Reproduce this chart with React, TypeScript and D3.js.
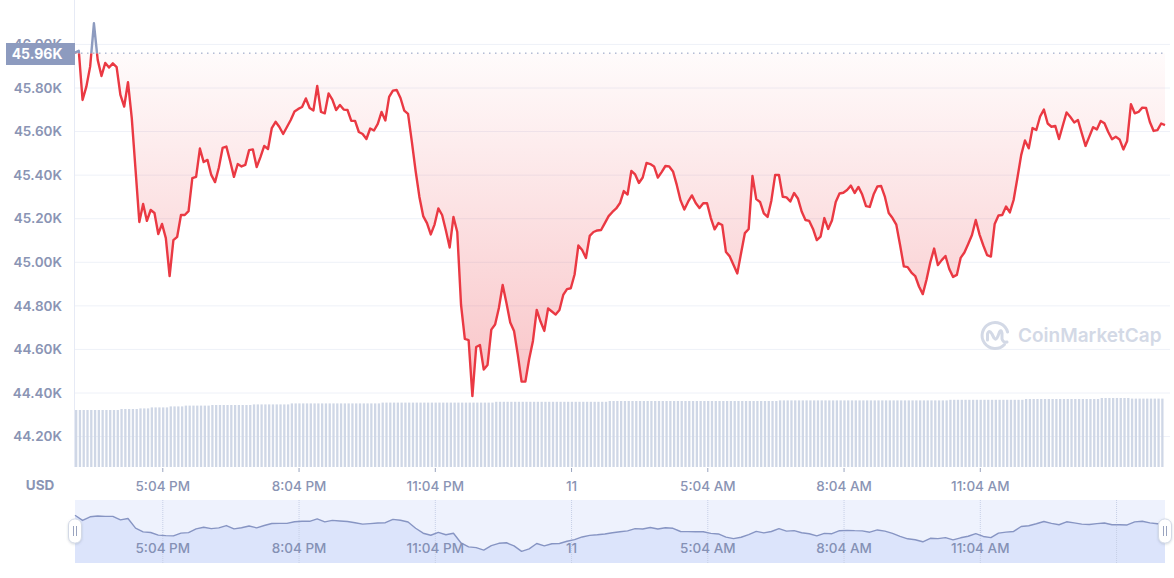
import React from "react";
import * as d3 from "d3";

// 24h of BTC/USD price at 5-minute resolution, starting Nov 10, 3:08 PM
const SERIES_START = new Date(2021, 10, 10, 15, 8);
const STEP_MINUTES = 5;
const OPEN_PRICE = 45960;

const prices: number[] = [
  45962, 45971, 45745, 45806, 45898, 46097, 45929, 45855, 45915, 45894, 45913, 45896,
  45768, 45715, 45827, 45662, 45424, 45185, 45268, 45190, 45240, 45226, 45130, 45176,
  45111, 44937, 45102, 45117, 45217, 45217, 45235, 45386, 45392, 45522, 45460, 45470,
  45401, 45368, 45434, 45525, 45531, 45464, 45392, 45451, 45440, 45447, 45515, 45518,
  45437, 45483, 45534, 45520, 45616, 45645, 45621, 45589, 45621, 45653, 45692, 45704,
  45713, 45752, 45708, 45697, 45809, 45690, 45684, 45775, 45747, 45699, 45722, 45701,
  45699, 45649, 45649, 45598, 45589, 45566, 45614, 45605, 45635, 45690, 45651, 45759,
  45788, 45791, 45754, 45696, 45681, 45554, 45419, 45300, 45212, 45180, 45128, 45173,
  45247, 45217, 45146, 45068, 45208, 45139, 44804, 44648, 44643, 44386, 44611, 44620,
  44508, 44529, 44691, 44714, 44790, 44896, 44813, 44724, 44685, 44575, 44452, 44452,
  44556, 44639, 44781, 44728, 44685, 44788, 44774, 44760, 44781, 44850, 44877, 44881,
  44944, 45077, 45056, 45020, 45121, 45139, 45146, 45148, 45180, 45212, 45231, 45247,
  45272, 45327, 45311, 45419, 45403, 45364, 45389, 45456, 45451, 45440, 45389, 45414,
  45442, 45440, 45417, 45355, 45284, 45242, 45278, 45307, 45272, 45249, 45271, 45271,
  45203, 45151, 45180, 45171, 45047, 45027, 44988, 44949, 45043, 45134, 45153, 45396,
  45290, 45277, 45225, 45208, 45284, 45401, 45401, 45301, 45298, 45279, 45318, 45293,
  45233, 45194, 45190, 45153, 45102, 45118, 45203, 45153, 45192, 45277, 45316, 45319,
  45332, 45352, 45318, 45346, 45311, 45258, 45254, 45311, 45348, 45350, 45300, 45226,
  45203, 45173, 45079, 44981, 44978, 44953, 44937, 44889, 44854, 44921, 45001, 45063,
  44987, 45010, 45029, 44969, 44933, 44942, 45020, 45045, 45084, 45125, 45194, 45127,
  45077, 45033, 45026, 45176, 45215, 45217, 45256, 45229, 45286, 45387, 45492, 45559,
  45523, 45616, 45607, 45669, 45701, 45637, 45622, 45626, 45566, 45628, 45688, 45667,
  45642, 45653, 45593, 45534, 45577, 45620, 45610, 45649, 45638, 45598, 45565, 45576,
  45564, 45518, 45557, 45726, 45684, 45690, 45710, 45708, 45644, 45603, 45607, 45637,
  45630,
];

// rolling 24h volume (billions USD), one bar per 5-minute slot
const volumes: number[] = [
  28.5, 28.5, 28.5, 28.5, 28.5, 28.5, 28.5, 28.5, 28.5, 28.5, 28.5, 28.5,
  29.0, 29.0, 29.0, 29.0, 29.0, 29.3, 29.3, 29.3, 29.8, 29.8, 29.8, 29.8,
  29.8, 30.3, 30.3, 30.3, 30.3, 30.7, 30.7, 30.7, 30.7, 30.7, 30.7, 30.7,
  31.0, 31.0, 31.0, 31.0, 31.0, 31.0, 31.0, 31.0, 31.0, 31.0, 31.0, 31.3,
  31.3, 31.3, 31.3, 31.3, 31.3, 31.3, 31.3, 31.3, 31.3, 31.8, 31.8, 31.8,
  31.8, 31.8, 31.8, 31.8, 31.8, 31.8, 31.8, 31.8, 31.8, 31.8, 31.8, 31.8,
  31.8, 31.8, 31.8, 31.8, 31.8, 31.8, 31.8, 31.8, 31.8, 32.2, 32.2, 32.2,
  32.2, 32.2, 32.2, 32.2, 32.2, 32.2, 32.2, 32.2, 32.2, 32.2, 32.2, 32.2,
  32.2, 32.2, 32.2, 32.2, 32.2, 32.2, 32.2, 32.2, 32.2, 32.2, 32.2, 32.2,
  32.2, 32.2, 32.2, 32.6, 32.6, 32.6, 32.6, 32.6, 32.6, 32.6, 32.6, 32.6,
  32.6, 32.6, 32.6, 32.6, 32.6, 32.6, 32.6, 32.6, 32.6, 32.6, 32.6, 32.6,
  32.6, 32.6, 32.6, 32.6, 32.6, 32.6, 32.6, 32.6, 32.6, 33.0, 33.0, 33.0,
  33.0, 33.0, 33.0, 33.0, 33.0, 33.0, 33.0, 33.0, 33.0, 33.0, 33.0, 33.0,
  33.0, 33.0, 33.0, 33.0, 33.0, 33.0, 33.0, 33.0, 33.0, 33.0, 33.0, 33.0,
  33.0, 33.0, 33.0, 33.0, 33.0, 33.0, 33.0, 33.0, 33.0, 33.0, 33.0, 33.0,
  33.0, 33.0, 33.0, 33.0, 33.0, 33.0, 33.3, 33.3, 33.3, 33.3, 33.3, 33.3,
  33.3, 33.3, 33.3, 33.3, 33.3, 33.3, 33.3, 33.3, 33.3, 33.3, 33.3, 33.3,
  33.3, 33.3, 33.3, 33.3, 33.3, 33.3, 33.3, 33.3, 33.3, 33.3, 33.3, 33.3,
  33.3, 33.3, 33.3, 33.3, 33.3, 33.3, 33.3, 33.3, 33.3, 33.3, 33.3, 33.3,
  33.3, 33.3, 33.3, 33.6, 33.6, 33.6, 33.6, 33.6, 33.6, 33.6, 33.6, 33.6,
  33.6, 33.6, 33.6, 33.6, 33.6, 33.6, 33.6, 33.6, 33.6, 33.6, 33.6, 34.0,
  34.0, 34.0, 34.0, 34.0, 34.0, 34.0, 34.0, 34.0, 34.0, 34.0, 34.0, 34.0,
  34.0, 34.0, 34.0, 34.0, 34.0, 34.0, 34.0, 34.5, 34.5, 34.5, 34.5, 34.5,
  34.5, 34.5, 34.5, 34.2, 34.2, 34.2, 34.2, 34.2, 34.2, 34.2, 34.2, 34.2,
];

const yTicks: number[] = [44200, 44400, 44600, 44800, 45000, 45200, 45400, 45600, 45800, 46000];

const xTickTimes: Date[] = [
  new Date(2021, 10, 10, 17, 4),
  new Date(2021, 10, 10, 20, 4),
  new Date(2021, 10, 10, 23, 4),
  new Date(2021, 10, 11, 2, 4),
  new Date(2021, 10, 11, 5, 4),
  new Date(2021, 10, 11, 8, 4),
  new Date(2021, 10, 11, 11, 4),
];
const xTickLabels: string[] = ["5:04 PM", "8:04 PM", "11:04 PM", "11", "5:04 AM", "8:04 AM", "11:04 AM"];
// navigator grid also carries the 2:04 PM line
const navGridTimes: Date[] = [...xTickTimes, new Date(2021, 10, 11, 14, 4)];

const W = 1174;
const H = 578;
const LEFT = 75;
const RIGHT = 1165;
const FONT = "Inter, 'Noto Sans', sans-serif";
const RED = "#ea3943";
const SLATE = "#8d9bbf";
const LABEL = "#8a94b4";

const timeAt = (i: number) => new Date(SERIES_START.getTime() + i * STEP_MINUTES * 60000);

export default function App() {
  const end = timeAt(prices.length - 1);
  const x = d3.scaleTime().domain([SERIES_START, end]).range([LEFT, RIGHT]);
  const y = d3.scaleLinear().domain([44400, 45800]).range([393, 88]);
  const vy = d3.scaleLinear().domain([0, 40]).range([467, 387]);

  const base = y(OPEN_PRICE);
  const lowest = d3.min(prices) as number;

  const line = d3
    .line<number>()
    .x((_, i) => x(timeAt(i)))
    .y((d) => y(d));
  const area = d3
    .area<number>()
    .x((_, i) => x(timeAt(i)))
    .y0(base)
    .y1((d) => y(d));

  // navigator: overview of the same series at 10-minute steps
  const navTop = 500;
  const navBottom = 563;
  const navPoints = prices
    .map((p, i) => ({ t: timeAt(i), p }))
    .filter((_, i) => i % 2 === 0 || i === prices.length - 1);
  const ny = d3
    .scaleLinear()
    .domain([lowest, d3.max(prices) as number])
    .range([553, 512]);
  const navLine = d3
    .line<{ t: Date; p: number }>()
    .x((d) => x(d.t))
    .y((d) => ny(d.p));
  const navArea = d3
    .area<{ t: Date; p: number }>()
    .x((d) => x(d.t))
    .y0(navBottom)
    .y1((d) => ny(d.p));

  const barW = 2.3;

  const handle = (cx: number) => (
    <g>
      <rect x={cx - 6.5} y={519} width={13} height={24} rx={6} fill="#ffffff" stroke="#d3d9e6" strokeWidth={1} filter="url(#hshadow)" />
      <line x1={cx - 1.5} x2={cx - 1.5} y1={526} y2={536} stroke="#9aa4bf" strokeWidth={1} />
      <line x1={cx + 1.5} x2={cx + 1.5} y1={526} y2={536} stroke="#9aa4bf" strokeWidth={1} />
    </g>
  );

  return (
    <svg
      width={W}
      height={H}
      style={{ position: "absolute", left: 0, top: 0, background: "#ffffff" }}
      fontFamily={FONT}
    >
      <defs>
        <linearGradient id="redFill" gradientUnits="userSpaceOnUse" x1={0} x2={0} y1={base} y2={y(lowest)}>
          <stop offset="0" stopColor={RED} stopOpacity={0.02} />
          <stop offset="1" stopColor={RED} stopOpacity={0.3} />
        </linearGradient>
        <linearGradient id="slateFill" gradientUnits="userSpaceOnUse" x1={0} x2={0} y1={0} y2={base}>
          <stop offset="0" stopColor={SLATE} stopOpacity={0.3} />
          <stop offset="1" stopColor={SLATE} stopOpacity={0.05} />
        </linearGradient>
        <clipPath id="belowOpen">
          <rect x={LEFT} y={base} width={RIGHT - LEFT + 2} height={470 - base} />
        </clipPath>
        <clipPath id="aboveOpen">
          <rect x={LEFT} y={0} width={RIGHT - LEFT + 2} height={base} />
        </clipPath>
        <filter id="hshadow" x="-50%" y="-50%" width="200%" height="200%">
          <feDropShadow dx={0} dy={1} stdDeviation={1.2} floodColor="#58667e" floodOpacity={0.25} />
        </filter>
      </defs>

      {/* horizontal grid */}
      {yTicks.map((t) => (
        <line key={t} x1={LEFT} x2={RIGHT + 5} y1={y(t)} y2={y(t)} stroke="#eef1f8" strokeWidth={1} />
      ))}
      <line x1={LEFT - 0.5} x2={LEFT - 0.5} y1={0} y2={467} stroke="#e6eaf5" strokeWidth={1} />

      {/* volume bars */}
      {volumes.map((v, i) => (
        <rect
          key={i}
          x={x(timeAt(i))}
          y={vy(v)}
          width={barW}
          height={vy(0) - vy(v)}
          fill="#cfd7e6"
        />
      ))}

      {/* watermark */}
      <g transform="translate(995,335)" fill="none" stroke="#d3d9e6" strokeWidth={3} strokeLinecap="round" strokeLinejoin="round">
        <path d="M 9.5 9.5 A 13 13 0 1 1 12.6 -3" />
        <path d="M -7.5 5 L -7.5 -1 Q -6 -6 -3 -1 L -1 3 Q 1 6 3 1 L 4.5 -3 Q 6 -6 7 -2 L 7 4 Q 8 8 12 7" />
      </g>
      <text x={1018} y={342} fontSize={19} fontWeight={600} fill="#d3d9e6">
        CoinMarketCap
      </text>

      {/* price area and line */}
      <path d={area(prices) || ""} fill="url(#redFill)" clipPath="url(#belowOpen)" />
      <path d={area(prices) || ""} fill="url(#slateFill)" clipPath="url(#aboveOpen)" />
      <line x1={LEFT} x2={RIGHT} y1={base} y2={base} stroke={SLATE} strokeWidth={1} strokeDasharray="1.5 4.5" />
      <path d={line(prices) || ""} fill="none" stroke={RED} strokeWidth={2.4} strokeLinejoin="round" clipPath="url(#belowOpen)" />
      <path d={line(prices) || ""} fill="none" stroke={SLATE} strokeWidth={2.4} strokeLinejoin="round" clipPath="url(#aboveOpen)" />

      {/* y axis labels; the open-price badge sits over the 46.00K label */}
      {yTicks.map((t) => (
        <text key={t} x={62} y={y(t)} dy="0.35em" textAnchor="end" fontSize={13.5} fontWeight={600} fill={LABEL}>
          {(t / 1000).toFixed(2) + "K"}
        </text>
      ))}
      <rect x={6} y={43} width={69} height={22} fill={SLATE} />
      <text x={62.5} y={base + 1} dy="0.35em" textAnchor="end" fontSize={14} fontWeight={700} fill="#ffffff">
        {(OPEN_PRICE / 1000).toFixed(2) + "K"}
      </text>

      {/* x axis */}
      {xTickTimes.map((t, i) => (
        <g key={i}>
          <line x1={x(t)} x2={x(t)} y1={468} y2={472} stroke="#9aa4bf" strokeWidth={1} />
          <text x={x(t)} y={486} dy="0.35em" textAnchor="middle" fontSize={13.5} fontWeight={500} fill={LABEL}>
            {xTickLabels[i]}
          </text>
        </g>
      ))}
      <text x={40} y={485} dy="0.35em" textAnchor="middle" fontSize={13.5} fontWeight={700} fill={LABEL}>
        USD
      </text>

      {/* navigator */}
      <rect x={LEFT} y={navTop} width={RIGHT - LEFT} height={navBottom - navTop} fill="#eef2fd" />
      <path d={navArea(navPoints) || ""} fill="#dce4fb" />
      {navGridTimes.map((t, i) => (
        <line key={i} x1={x(t)} x2={x(t)} y1={navTop} y2={navBottom} stroke="#c6cfe6" strokeWidth={1} strokeDasharray="1 1" />
      ))}
      <path d={navLine(navPoints) || ""} fill="none" stroke="#8795c3" strokeWidth={1.4} strokeLinejoin="round" />
      {xTickTimes.map((t, i) => (
        <text key={i} x={x(t)} y={548} dy="0.35em" textAnchor="middle" fontSize={13.5} fontWeight={500} fill="#8591b5">
          {xTickLabels[i]}
        </text>
      ))}
      {handle(LEFT)}
      {handle(RIGHT)}
    </svg>
  );
}
